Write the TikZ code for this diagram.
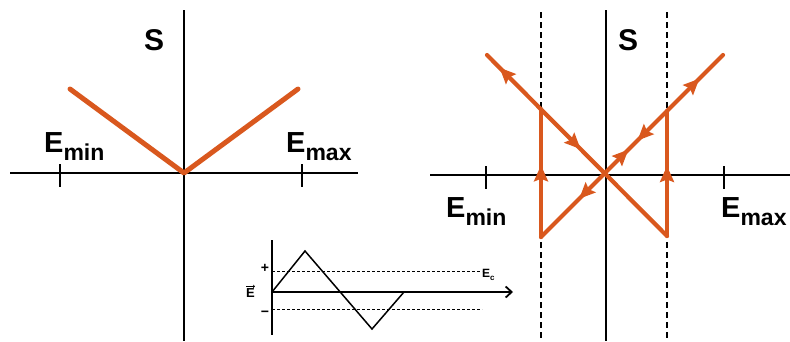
\documentclass[tikz,border=0pt]{standalone}
\usepackage{fontspec}
\setmainfont{Liberation Sans}
\usetikzlibrary{arrows.meta,decorations.markings}
\definecolor{orng}{RGB}{217,88,30}
\newcommand\EL[1]{\fontsize{29}{29}\selectfont\bfseries E\raisebox{-8pt}{\fontsize{23}{23}\selectfont #1}}
\begin{document}
\begin{tikzpicture}[x=1pt,y=-1pt,
  axis/.style={line width=2pt,black},
  tck/.style={line width=2pt,black},
  vline/.style={line width=5pt,orng,line cap=round,line join=round},
  hline/.style={line width=4.2pt,orng,line cap=round,line join=round},
  dsh/.style={line width=1.2pt,dash pattern=on 6pt off 4pt},
  lbl/.style={inner sep=0pt,anchor=base west},
  fw/.style={postaction={decorate,decoration={markings,mark=at position #1 with {\arrow[orng]{Stealth[length=16pt,width=14pt,inset=2.5pt]}}}}},
  bw/.style={postaction={decorate,decoration={markings,mark=at position #1 with {\arrowreversed[orng]{Stealth[length=16pt,width=14pt,inset=2.5pt]}}}}}]
\useasboundingbox (0,0) rectangle (790,341);
% ---------- left plot ----------
\coordinate (lo) at (184,173);
\coordinate (lxa) at (10,173);
\coordinate (lxb) at (358,173);
\coordinate (lya) at (184,10);
\coordinate (lyb) at (184,341);
\draw[axis] (lxa) -- (lxb);
\draw[axis] (lya) -- (lyb);
\draw[tck] (60,164) -- (60,187);
\draw[tck] (302,164) -- (302,187);
\coordinate (lvl) at (70,89);
\coordinate (lvr) at (298,89);
\draw[vline] (lvl) -- (lo) -- (lvr);
\node[lbl] (lS) at (144,50) {\fontsize{30}{30}\selectfont\bfseries S};
\node[lbl] (lEmin) at (44,152) {\EL{min}};
\node[lbl] (lEmax) at (286,152) {\EL{max}};
% ---------- right plot ----------
\coordinate (ro) at (606,175);
\draw[axis] (430,175) -- (790,175);
\draw[axis] (606,10) -- (606,341);
\draw[tck] (486,166) -- (486,189);
\draw[tck] (724,166) -- (724,189);
\draw[dsh] (541,12) -- (541,341);
\draw[dsh] (667,12) -- (667,341);
\coordinate (a1) at (487,55);
\coordinate (a2) at (667,236);
\coordinate (b1) at (541,237);
\coordinate (b2) at (723,55);
\coordinate (c1) at (541,109);
\coordinate (c2) at (667,111);
\draw[hline] (b1) -- (c1);
\draw[hline] (a2) -- (c2);
\draw[hline,bw=0.07,fw=0.52] (a1) -- (a2);
\draw[hline,bw=0.21,fw=0.48,bw=0.53,fw=0.87] (b1) -- (b2);
\draw[hline,draw=none,fw=0.56] (b1) -- (c1);
\draw[hline,draw=none,fw=0.56] (a2) -- (c2);
\node[lbl] (rS) at (618,50) {\fontsize{30}{30}\selectfont\bfseries S};
\node[lbl] (rEmin) at (446,217) {\EL{min}};
\node[lbl] (rEmax) at (721,217) {\EL{max}};
% ---------- inset ----------
\coordinate (io) at (272,292);
\draw[line width=1.8pt] (272,240) -- (272,335);
\draw[line width=1.8pt,-{Straight Barb[length=6pt,width=11pt,line width=1.8pt]}] (io) -- (513,292);
\draw[line width=0.6pt,densely dashed] (272,271) -- (482,271);
\draw[line width=0.6pt,densely dashed] (272,309) -- (482,309);
\draw[line width=1.5pt,line join=miter] (io) -- (305,251) -- (372,329) -- (404,292);
\node (plus) at (265,268) {\fontsize{14}{14}\selectfont\bfseries +};
\node (minus) at (265,314) {\fontsize{14}{14}\selectfont\bfseries −};
\node[lbl] (Evec) at (246,297) {\fontsize{13}{13}\selectfont\bfseries E};
\draw[line width=0.7pt,-{Straight Barb[length=1.5pt,width=3pt,line width=0.6pt]}] ([yshift=1.5pt]Evec.north west) -- ([yshift=1.5pt]Evec.north east);
\node[lbl] (Ec) at (482,277) {\fontsize{12}{12}\selectfont\bfseries E\raisebox{-3pt}{\fontsize{8}{8}\selectfont c}};
\end{tikzpicture}
\end{document}
